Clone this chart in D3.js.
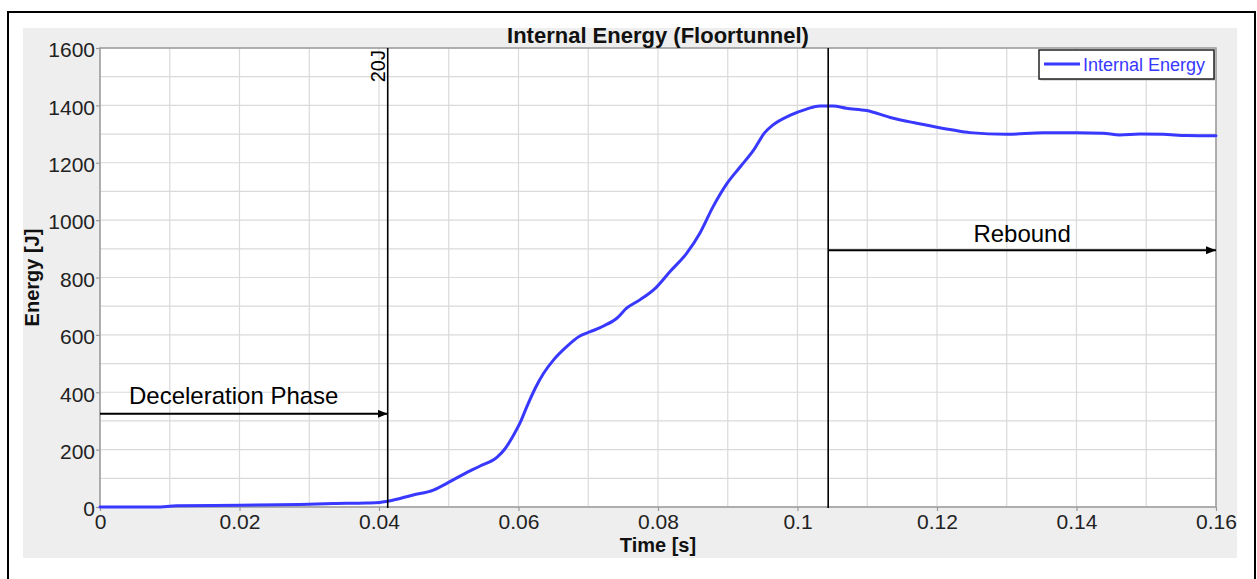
<!DOCTYPE html>
<html>
<head>
<meta charset="utf-8">
<script src="https://cdn.jsdelivr.net/npm/d3@7"></script>
<style>
  html, body { margin: 0; padding: 0; background: #fff; }
  svg { display: block; font-family: "Liberation Sans", Arial, sans-serif; }
</style>
</head>
<body>
<svg id="chart" width="1257" height="579"></svg>
<script>
// Internal energy of the floor tunnel over time
const timeS = [0, 0.008, 0.011, 0.02, 0.0287, 0.0335, 0.0382, 0.0401, 0.0412, 0.0449, 0.0478, 0.0499,
  0.0521, 0.0545, 0.0569, 0.0581, 0.0593, 0.0602, 0.0612, 0.0624, 0.0636, 0.065, 0.0669, 0.0688,
  0.0703, 0.0722, 0.0741, 0.0755, 0.0774, 0.0796, 0.0817, 0.0841, 0.086, 0.0879, 0.0899, 0.0918,
  0.0937, 0.0953, 0.0965, 0.0989, 0.1013, 0.1032, 0.1051, 0.107, 0.1099, 0.1133, 0.1166, 0.12,
  0.1223, 0.1247, 0.13, 0.1352, 0.14, 0.1438, 0.1462, 0.1491, 0.1524, 0.1558, 0.16];
const energyJ = [0, 0, 4, 6, 9, 12, 14, 16, 20, 42, 59, 85,
  114, 143, 173, 204, 251, 292, 350, 414, 466, 512, 559, 596,
  611, 631, 658, 693, 722, 762, 820, 884, 954, 1047, 1128, 1186,
  1244, 1305, 1332, 1365, 1387, 1398, 1398, 1390, 1382, 1358, 1340, 1324,
  1314, 1305, 1299, 1305, 1305, 1303, 1297, 1300, 1299, 1295, 1294];

const xTicks = [0, 0.02, 0.04, 0.06, 0.08, 0.1, 0.12, 0.14, 0.16];
const xTickLabels = ["0", "0.02", "0.04", "0.06", "0.08", "0.1", "0.12", "0.14", "0.16"];
const yTicks = [0, 200, 400, 600, 800, 1000, 1200, 1400, 1600];

// Phase markers: time where energy reaches 20 J, and start of rebound
const phaseTimes = [0.04125, 0.1044];
const phaseNames = ["Deceleration Phase", "Rebound"];
const phaseArrowEnergy = [325, 895];
const markerLabel = "20J";

const titleText = "Internal Energy (Floortunnel)";
const xLabel = "Time [s]";
const yLabel = "Energy [J]";
const seriesName = "Internal Energy";

const lineColor = "#3838ff";

const svg = d3.select("#chart");

// outer frame and panel
svg.append("rect").attr("x", 8).attr("y", 12).attr("width", 1247).attr("height", 620)
  .attr("fill", "#fff").attr("stroke", "#000").attr("stroke-width", 2);
svg.append("rect").attr("x", 23).attr("y", 28).attr("width", 1214).attr("height", 530)
  .attr("fill", "#eeeeee");

const x = d3.scaleLinear().domain([0, 0.16]).range([100, 1216]);
const y = d3.scaleLinear().domain([0, 1600]).range([507, 48]);

const [x0, x1] = x.range();
const [y0, y1] = y.range();

// plot background
svg.append("rect").attr("x", x0).attr("y", y1).attr("width", x1 - x0).attr("height", y0 - y1)
  .attr("fill", "#fff");

// grid
const grid = svg.append("g").attr("stroke", "#dadada").attr("stroke-width", 1.2);
grid.selectAll("line.v").data(x.ticks(16)).join("line")
  .attr("x1", d => x(d)).attr("x2", d => x(d)).attr("y1", y1).attr("y2", y0);
grid.selectAll("line.h").data(y.ticks(16)).join("line")
  .attr("x1", x0).attr("x2", x1).attr("y1", d => y(d)).attr("y2", d => y(d));

// plot frame
svg.append("rect").attr("x", x0).attr("y", y1).attr("width", x1 - x0).attr("height", y0 - y1)
  .attr("fill", "none").attr("stroke", "#9a9a9a").attr("stroke-width", 1.5);

// axes
const yAxis = d3.axisLeft(y).tickValues(yTicks).tickSize(4).tickPadding(1)
  .tickFormat(d3.format("d"));
const gy = svg.append("g").attr("transform", `translate(${x0},0)`).call(yAxis);
const xAxis = d3.axisBottom(x).tickValues(xTicks).tickSize(4).tickPadding(3)
  .tickFormat((d, i) => xTickLabels[i]);
const gx = svg.append("g").attr("transform", `translate(0,${y0})`).call(xAxis);
[gx, gy].forEach(g => {
  g.select(".domain").remove();
  g.selectAll(".tick line").attr("stroke", "#9a9a9a").attr("stroke-width", 1.2);
  g.selectAll(".tick text").attr("fill", "#222").style("font-size", "21px")
    .style("font-family", "'Liberation Sans', Arial, sans-serif");
});
gy.selectAll(".tick text").attr("dy", "0.42em");

// curve
const line = d3.line().x(d => x(d[0])).y(d => y(d[1])).curve(d3.curveMonotoneX);
svg.append("path").datum(d3.zip(timeS, energyJ))
  .attr("d", line).attr("fill", "none").attr("stroke", lineColor)
  .attr("stroke-width", 3).attr("stroke-linejoin", "round").attr("stroke-linecap", "round");

// arrowhead
svg.append("defs").append("marker").attr("id", "arrowhead")
  .attr("viewBox", "0 0 10 8").attr("refX", 10).attr("refY", 4)
  .attr("markerWidth", 10).attr("markerHeight", 8).attr("markerUnits", "userSpaceOnUse")
  .attr("orient", "auto")
  .append("path").attr("d", "M0,0 L10,4 L0,8 Z").attr("fill", "#000");

// phase markers
phaseTimes.forEach(t => {
  svg.append("line").attr("x1", x(t)).attr("x2", x(t)).attr("y1", y1).attr("y2", y0 + 1)
    .attr("stroke", "#000").attr("stroke-width", 1.6);
});
svg.append("text")
  .attr("transform", `translate(${x(phaseTimes[0]) - 3},${y1 + 2}) rotate(-90)`)
  .attr("text-anchor", "end").style("font-size", "20px").attr("fill", "#000")
  .text(markerLabel);

// deceleration arrow
svg.append("line").attr("x1", x0).attr("x2", x(phaseTimes[0]))
  .attr("y1", y(phaseArrowEnergy[0])).attr("y2", y(phaseArrowEnergy[0]))
  .attr("stroke", "#000").attr("stroke-width", 2).attr("marker-end", "url(#arrowhead)");
svg.append("text").attr("x", x0 + 29).attr("y", y(phaseArrowEnergy[0]) - 10)
  .style("font-size", "24px").attr("fill", "#000").text(phaseNames[0]);

// rebound arrow
svg.append("line").attr("x1", x(phaseTimes[1])).attr("x2", x1)
  .attr("y1", y(phaseArrowEnergy[1])).attr("y2", y(phaseArrowEnergy[1]))
  .attr("stroke", "#000").attr("stroke-width", 2).attr("marker-end", "url(#arrowhead)");
svg.append("text").attr("x", (x(phaseTimes[1]) + x1) / 2).attr("y", y(phaseArrowEnergy[1]) - 8)
  .attr("text-anchor", "middle").style("font-size", "24px").attr("fill", "#000").text(phaseNames[1]);

// title and axis labels
svg.append("text").attr("x", (x0 + x1) / 2).attr("y", 43).attr("text-anchor", "middle")
  .style("font-size", "22px").style("font-weight", "bold").attr("fill", "#111").text(titleText);
svg.append("text").attr("x", (x0 + x1) / 2).attr("y", 552).attr("text-anchor", "middle")
  .style("font-size", "20px").style("font-weight", "bold").attr("fill", "#111").text(xLabel);
svg.append("text").attr("transform", `translate(39,${(y0 + y1) / 2}) rotate(-90)`)
  .attr("text-anchor", "middle").style("font-size", "20px").style("font-weight", "bold")
  .attr("fill", "#111").text(yLabel);

// legend
const lg = svg.append("g").attr("transform", "translate(1039,50)");
lg.append("rect").attr("x", 1.5).attr("y", 1.5).attr("width", 175).attr("height", 29)
  .attr("fill", "#bdbdbd");
lg.append("rect").attr("width", 175).attr("height", 29)
  .attr("fill", "#fff").attr("stroke", "#222").attr("stroke-width", 1.5);
lg.append("line").attr("x1", 5).attr("x2", 41).attr("y1", 14).attr("y2", 14)
  .attr("stroke", lineColor).attr("stroke-width", 3);
lg.append("text").attr("x", 44).attr("y", 20.5).style("font-size", "18px")
  .attr("fill", lineColor).text(seriesName);
</script>
</body>
</html>
